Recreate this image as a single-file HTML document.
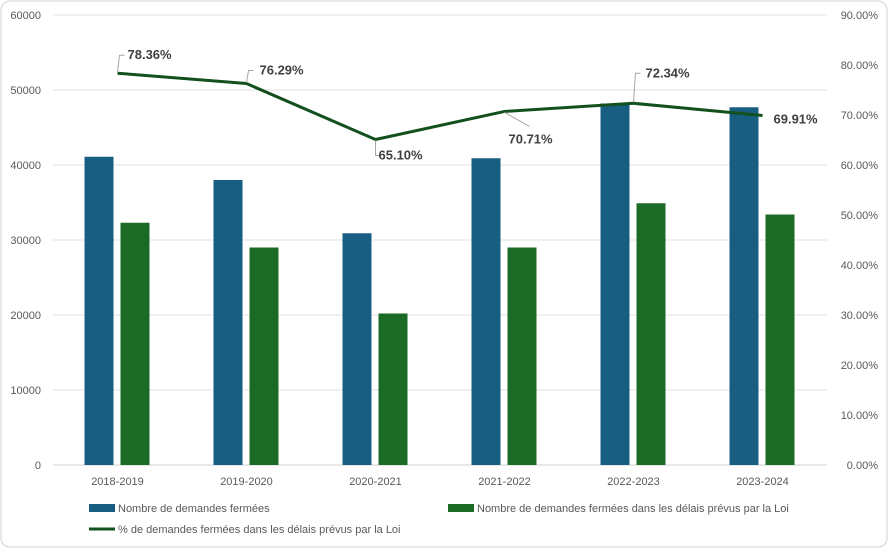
<!DOCTYPE html>
<html><head><meta charset="utf-8">
<style>
body{margin:0;background:#fff;font-family:"Liberation Sans",sans-serif;}
#wrap{position:relative;width:888px;height:548px;}
svg text{font-family:"Liberation Sans",sans-serif;}
</style></head>
<body>
<div id="wrap">
<svg id="chart" width="888" height="548">
<rect x="1" y="1" width="886" height="546" rx="9" fill="#fff" stroke="#d0d0d0"/>
</svg>
</div>
<script>
const categories=["2018-2019","2019-2020","2020-2021","2021-2022","2022-2023","2023-2024"];
const closedTotal=[41100,38000,30900,40900,48200,47700];
const closedOnTime=[32300,29000,20200,29000,34900,33400];
const pctOnTime=[78.36,76.29,65.10,70.71,72.34,69.91];
const leftTicks=[0,10000,20000,30000,40000,50000,60000];
const rightTicks=[0,10,20,30,40,50,60,70,80,90];

const svg=document.getElementById('chart');
const NS='http://www.w3.org/2000/svg';
const X0=53,X1=827,Y0=465,Y1=15;
const band=(X1-X0)/categories.length;
const xc=i=>X0+band*(i+0.5);
const yL=v=>Y0-(v/60000)*(Y0-Y1);
const yR=v=>Y0-(v/90)*(Y0-Y1);
function mk(tag,attrs){const e=document.createElementNS(NS,tag);for(const k in attrs)e.setAttribute(k,attrs[k]);svg.appendChild(e);return e;}

leftTicks.forEach(t=>{
 const g=mk('line',{x1:X0,x2:X1,y1:yL(t),y2:yL(t),stroke:t===0?'#d0d0d0':'#e2e2e2','stroke-width':1});
 
 
 const tx=mk('text',{x:41,y:yL(t)+4,'text-anchor':'end','font-size':11,fill:'#595959'});
 tx.textContent=t;
 
 
});
rightTicks.forEach(t=>{
 const tx=mk('text',{x:878,y:yR(t)+4,'text-anchor':'end','font-size':11,fill:'#595959'});
 tx.textContent=t.toFixed(2)+'%';
 
 
});
categories.forEach((c,i)=>{
 const b1=mk('rect',{x:xc(i)-33,y:yL(closedTotal[i]),width:29,height:Y0-yL(closedTotal[i]),fill:'#175e82'});
 
 
 const b2=mk('rect',{x:xc(i)+3,y:yL(closedOnTime[i]),width:29,height:Y0-yL(closedOnTime[i]),fill:'#1b6b27'});
 
 
 const tx=mk('text',{x:xc(i),y:485,'text-anchor':'middle','font-size':11,fill:'#595959'});
 tx.textContent=c;
 
 
});
const pts=pctOnTime.map((v,i)=>xc(i)+','+yR(v)).join(' ');
const ln=mk('polyline',{points:pts,fill:'none',stroke:'#13501e','stroke-width':3,'stroke-linejoin':'round'});


// label placement: [dx,dy] offset of text start relative to point, leader
const off=[[10,-14,'up'],[13,-9,'up'],[3,20,'down'],[4,32,'diag'],[12,-26,'up'],[11,8,'none']];
pctOnTime.forEach((v,i)=>{
 const px=xc(i),py=yR(v),o=off[i];
 let d='';
 if(o[2]==='up')d=`M${px},${py} L${px+1},${py-o[1]*-1+0} `;
 if(o[2]==='up')d=`M${px},${py-1} L${px+2},${py+o[1]-4} L${px+7},${py+o[1]-4}`;
 if(o[2]==='down')d=`M${px},${py+1} L${px},${py+o[1]-4} L${px+5},${py+o[1]-4}`;
 if(o[2]==='diag')d=`M${px},${py+1} L${px+25},${py+o[1]-17}`;
 if(d){const l=mk('path',{d:d,fill:'none',stroke:'#a6a6a6','stroke-width':1});
  
  }
 const tx=mk('text',{x:px+o[0],y:py+o[1],'font-size':13,'font-weight':'bold',fill:'#404040'});
 tx.textContent=v.toFixed(2)+'%';
 
 
});
// legend
const legend=[[89,508,'rect','#175e82','Nombre de demandes fermées'],[448,508,'rect','#1b6b27','Nombre de demandes fermées dans les délais prévus par la Loi'],[89,529,'line','#13501e','% de demandes fermées dans les délais prévus par la Loi']];
legend.forEach(l=>{
 const s=l[2]==='rect'?mk('rect',{x:l[0],y:l[1]-4,width:26,height:8,fill:l[3]}):mk('line',{x1:l[0],x2:l[0]+26,y1:l[1],y2:l[1],stroke:l[3],'stroke-width':3});
 
 
 const tx=mk('text',{x:l[0]+29,y:l[1]+4,'font-size':11,fill:'#595959'});
 tx.textContent=l[4];
 
 
});
</script>
</body></html>
